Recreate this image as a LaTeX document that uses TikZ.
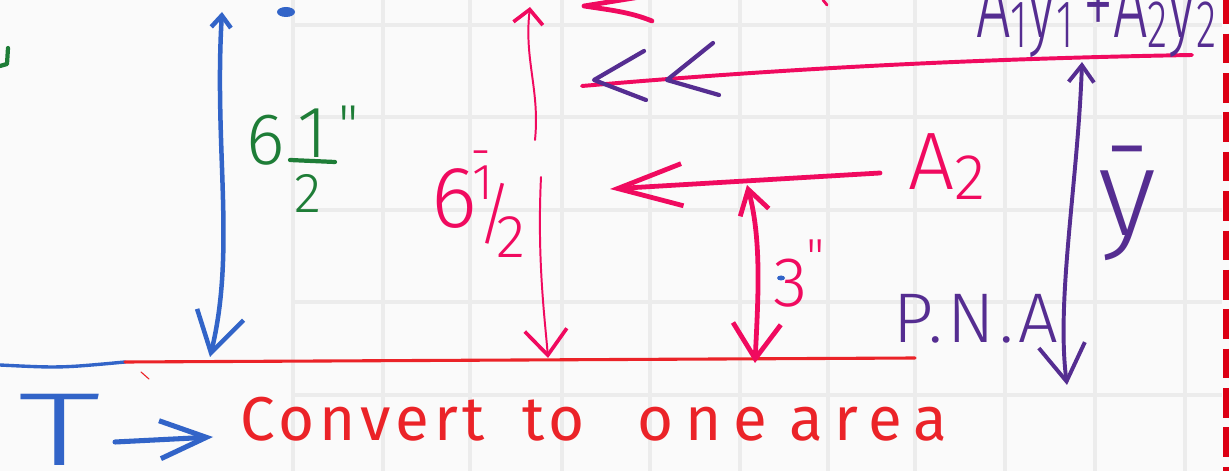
\documentclass[tikz,border=0pt]{standalone}
\usepackage{fontspec}
\setmainfont{Fira Sans}
\newfontfamily\handwide[LetterSpace=8]{Fira Sans}
\newfontfamily\thin{Fira Sans Light}
\usetikzlibrary{arrows.meta,calc}
\definecolor{bluepen}{RGB}{50,100,200}
\definecolor{greenpen}{RGB}{30,125,55}
\definecolor{pinkpen}{RGB}{240,10,95}
\definecolor{redpen}{RGB}{235,35,40}
\definecolor{purplepen}{RGB}{85,45,145}
\definecolor{dashred}{RGB}{220,0,20}
\definecolor{paper}{RGB}{250,250,250}
\definecolor{gridgray}{RGB}{236,236,236}
\newcommand\FSz[1]{\fontsize{#1}{#1}\selectfont}
\tikzset{
  pen/.style={line cap=round, line join=round},
  gridline/.style={draw=gridgray, line width=2.5pt},
  bluestroke/.style={pen, draw=bluepen, line width=3.2pt},
  pinkthick/.style={pen, draw=pinkpen, line width=3.4pt},
  pinkthin/.style={pen, draw=pinkpen, line width=1.4pt},
  purplestroke/.style={pen, draw=purplepen, line width=2.8pt},
  redline/.style={pen, draw=redpen, line width=2.2pt},
  txt/.style={inner sep=0pt, outer sep=0pt},
}
\begin{document}
\begin{tikzpicture}[x=0.025cm, y=-0.025cm]
\useasboundingbox (0,0) rectangle (1229,471);
\clip (0,0) rectangle (1229,471);
\fill[paper] (0,0) rectangle (1229,471);
% grid
\foreach \gx in {293,383,470,562,650,740,828,915,1005,1095,1185}
  \draw[gridline] (\gx,0) -- (\gx,471);
\foreach \gy in {25,117,210,302,395}
  \draw[gridline] (293,\gy) -- (1222,\gy);
% red dashed edge
\draw[draw=dashred, line width=4.3pt, dash pattern=on 21pt off 7pt, dash phase=4pt] (1226,0) -- (1226,471);

% ---------- coordinates ----------
\coordinate (bTop) at (222,12);
\coordinate (bBot) at (210,357);
\coordinate (base0) at (0,365);
\coordinate (baseMid) at (125,362);
\coordinate (baseEnd) at (915,358);
\coordinate (pTop) at (530,7);
\coordinate (pGapA) at (535,140);
\coordinate (pGapB) at (541,177);
\coordinate (pBot) at (548,358);
\coordinate (tTop) at (747,185);
\coordinate (tBot) at (755,363);
\coordinate (aR) at (880,173);
\coordinate (aL) at (610,189);
\coordinate (sR) at (1192,55);
\coordinate (sL) at (582,86);
\coordinate (chevA) at (594,80);
\coordinate (chevB) at (667,80);
\coordinate (yTop) at (1082,62);
\coordinate (yBot) at (1067,385);
\coordinate (tArrS) at (115,442);
\coordinate (tArrE) at (213,437);

% base line
\draw[bluestroke, line width=2.4pt] (base0) .. controls (60,368) .. (baseMid);
\draw[redline] (baseMid) -- (baseEnd);
\draw[pen, draw=redpen, line width=0.8pt] (141,372) -- (149,379);

% blue 6 1/2 dimension arrow
\draw[bluestroke, {Straight Barb[length=8.5pt,width=14pt]}-{Straight Barb[length=28pt,width=34pt]}]
  (bTop) .. controls (214,150) and (236,250) .. (bBot);
\fill[bluepen] (286,12) ellipse (9 and 5);

% pink thin 6 1/2 arrow (two pieces around the label)
\draw[pinkthin, -{Straight Barb[length=10pt,width=21pt,line width=2.6pt]}]
  (pGapA) .. controls (540,90) and (524,60) .. (pTop);
\draw[pinkthin, -{Straight Barb[length=18pt,width=30pt,line width=2.6pt]}]
  (pGapB) .. controls (537,260) and (545,320) .. (pBot);

% stray pink strokes at top
\draw[pinkthick] (640,-3) -- (584,6) .. controls (610,10) and (630,12) .. (652,21);
\draw[pinkthin, line width=2pt] (823,0) -- (827,5);

% long pink arrow with purple double heads
\draw[pinkthick, line width=2.8pt] (sR) .. controls (900,60) and (700,76) .. (sL);
\draw[purplestroke, line width=3pt] ($(chevA)+(50,-29)$) -- (chevA) -- ($(chevA)+(52,20)$);
\draw[purplestroke, line width=3pt] ($(chevB)+(46,-37)$) -- (chevB) -- ($(chevB)+(52,15)$);

% pink A2 arrow
\draw[pinkthick, -{Straight Barb[length=46pt,width=30pt]}] (aR) -- (aL);

% pink 3" arrow
\draw[pinkthick, {Straight Barb[length=17pt,width=21pt]}-{Straight Barb[length=25pt,width=34pt]}]
  (tTop) .. controls (762,240) and (758,300) .. (tBot);
\fill[bluepen] (781,278) ellipse (4 and 2.5);

% purple y-bar arrow
\draw[purplestroke, {Straight Barb[length=12pt,width=18pt]}-{Straight Barb[length=26pt,width=33pt]}]
  (yTop) .. controls (1078,180) and (1056,300) .. (yBot);

% blue T arrow
\draw[bluestroke, line width=3.6pt, -{Straight Barb[length=33pt,width=27pt]}] (tArrS) -- (tArrE);

% green partial glyph at left edge
\draw[pen, draw=greenpen, line width=3pt] (8,48) -- (7,64) -- (0,66);

% ---------- labels ----------
\node[txt, anchor=base west, text=bluepen] (Tlab) at (18,465) {\thin\FSz{74}\scalebox{1.6}[1]{T}};
\node[txt, anchor=base west, text=redpen] (conv) at (240,440)
  {\handwide\FSz{44}Convert\hspace{0.6em}to\hspace{0.85em}{\addfontfeature{LetterSpace=19}one\hspace{-0.1em} area}};

% green 6 1/2"
\node[txt, anchor=base west, text=greenpen] (g6) at (246,165) {\thin\FSz{52}6};
\node[txt, anchor=base, text=greenpen] (g1) at (313,158) {\thin\FSz{52}1};
\node[txt, anchor=base, text=greenpen] (g2) at (308,213) {\thin\FSz{40}2};
\draw[pen, draw=greenpen, line width=3pt] (290,160) -- (335,162);
\node[txt, anchor=north west, text=greenpen] (gq) at (338,106) {\thin\FSz{40}\textquotedbl};

% pink 6 1/2
\node[txt, anchor=base west, text=pinkpen] (p6) at (431,228) {\thin\FSz{62}6};
\node[txt, anchor=base, text=pinkpen] (pm) at (481,192) {\thin\FSz{40}\textasciimacron};
\node[txt, anchor=base, text=pinkpen] (p1) at (483,200) {\thin\FSz{36}1};
\node[txt, anchor=base, text=pinkpen] (psl) at (495,238) {\thin\FSz{48}/};
\node[txt, anchor=base, text=pinkpen] (p2) at (511,258) {\thin\FSz{43}2};

% A2
\node[txt, anchor=base west, text=pinkpen] (A2) at (908,190)
  {\thin\FSz{58}A\raisebox{-7pt}{\FSz{46}2}};

% 3"
\node[txt, anchor=base west, text=pinkpen] (t3) at (773,307) {\thin\FSz{50}3};
\node[txt, anchor=north west, text=pinkpen] (t3q) at (806,240) {\thin\FSz{36}\textquotedbl};

% P.N.A
\node[txt, anchor=base west, text=purplepen] (pna) at (893,343) {\thin\addfontfeature{LetterSpace=6}\FSz{50}P.N.A};

% y bar
\node[txt, anchor=base west, text=purplepen] (ybar) at (1098,236) {\thin\FSz{88}\=y};

% A1y1 + A2y2
\node[txt, anchor=base west, text=purplepen] (sum) at (976,38)
  {\thin\FSz{70}\scalebox{0.62}[1]{A\raisebox{-0.1em}{\FSz{48}1}y\raisebox{-0.1em}{\FSz{48}1}\,+A\raisebox{-0.1em}{\FSz{48}2}y\raisebox{-0.1em}{\FSz{48}2}}};
\end{tikzpicture}
\end{document}
